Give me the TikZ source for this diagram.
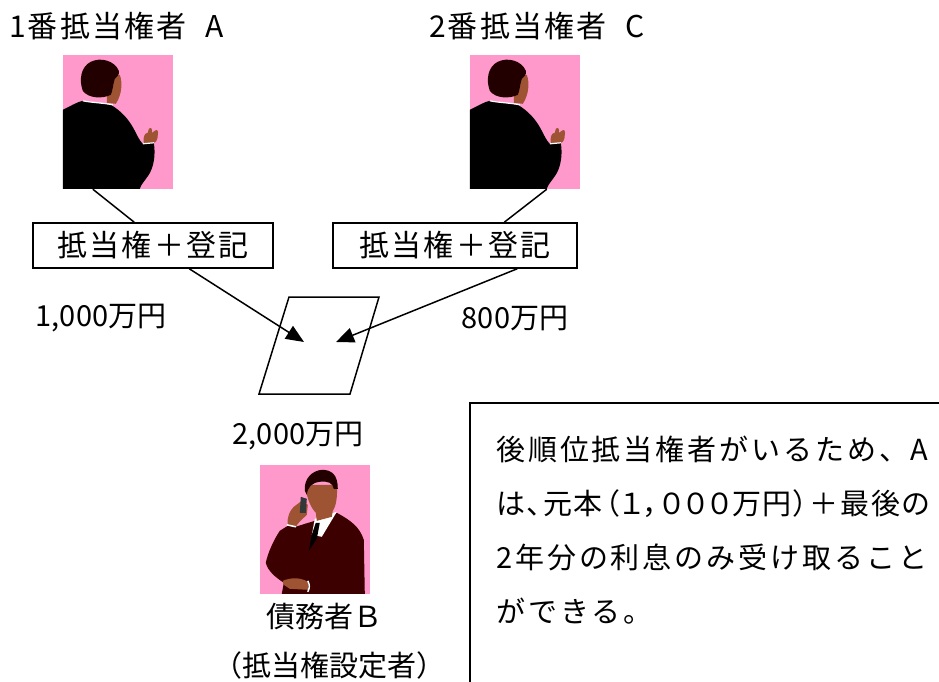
\documentclass[tikz,border=0pt]{standalone}
\usepackage{fontspec}
\setmainfont{Noto Sans CJK JP}
\newfontfamily\notefont[LetterSpace=10]{Noto Sans CJK JP}
\newfontfamily\labelfont[LetterSpace=7]{Noto Sans CJK JP}
\usetikzlibrary{arrows.meta,positioning}
\definecolor{photopink}{RGB}{255,153,204}
\definecolor{skin}{RGB}{158,84,50}
\definecolor{hair}{RGB}{34,0,0}
\definecolor{suitred}{RGB}{60,0,0}
\definecolor{phonegray}{RGB}{50,55,55}
\tikzset{
lbl/.style = {font=\fontsize{29}{34}\selectfont, inner sep=0pt},
title/.style = {font=\fontsize{30}{34}\selectfont\labelfont, inner sep=0pt},
block/.style = {draw, line width=1.5pt, minimum width=240pt, minimum height=45pt, font=\fontsize{30}{34}\selectfont\labelfont, inner sep=0pt},
photo/.style = {fill=photopink, minimum width=110pt, minimum height=134pt, inner sep=0pt},
link/.style = {line width=1.5pt},
% man seen from behind, raising his hand
backman/.pic = {
    \fill[skin] (44,22) -- (57,20) .. controls (60,28) and (59,40) .. (53,49) -- (44,48) -- cycle;
    \fill[hair] (20,36) .. controls (16,25) and (18,12) .. (28,7) .. controls (38,2) and (52,6) .. (56,16) .. controls (57,20) and (54,22) .. (52,24) .. controls (50,30) and (50,36) .. (48,40) .. controls (40,44) and (26,44) .. (20,36) -- cycle;
    \fill[black] (0,55) .. controls (10,50) and (15,47) .. (20,46) -- (48,50) .. controls (58,56) and (66,64) .. (72,76) .. controls (75,82) and (77,86) .. (80,89) -- (91,88) .. controls (93,100) and (91,112) .. (86,120) .. controls (82,126) and (78,130) .. (77,134) -- (0,134) -- cycle;
    \draw[white, line width=1.2pt] (20,46) .. controls (30,48) and (40,48) .. (50,50);
    \fill[skin] (81,88) .. controls (80,82) and (82,78) .. (85,78) -- (86,74) .. controls (88,72) and (90,74) .. (89,78) -- (92,76) .. controls (94,74) and (96,76) .. (95,80) .. controls (95,85) and (93,88) .. (91,88) -- cycle;
    \draw[white, line width=1.2pt] (80,89) -- (91,88);
},
% man on the phone
phoneman/.pic = {
    \fill[suitred] (52,57) -- (77,48) .. controls (90,55) and (100,62) .. (104,75) -- (105,129) -- (22,129) -- (24,118) .. controls (15,112) and (8,106) .. (6,98) .. controls (8,88) and (14,75) .. (20,66) -- (28,61) -- (36,62) .. controls (42,60) and (48,58) .. (52,57) -- cycle;
    \fill[white] (55,54) -- (77,47) -- (62,72) -- (52,70) -- cycle;
    \fill[black] (56,58) -- (60,58) -- (57,74) -- (49,86) -- (52,70) -- cycle;
    \fill[skin] (57,56) -- (56,48) .. controls (50,42) and (46,30) .. (46,20) -- (77,20) .. controls (78,32) and (76,42) .. (73,46) -- (72,52) -- cycle;
    \fill[hair] (45,26) .. controls (44,14) and (52,6) .. (62,5) .. controls (72,5) and (78,10) .. (78,24) -- (74,24) .. controls (73,18) and (68,16) .. (60,17) .. controls (52,18) and (48,22) .. (47,30) -- cycle;
    \fill[skin] (28,60) .. controls (27,52) and (30,46) .. (34,42) -- (42,36) -- (48,40) -- (47,50) .. controls (43,54) and (38,58) .. (36,62) -- cycle;
    \fill[phonegray] (41,32) -- (47,34) -- (46,48) -- (40,48) -- cycle;
    \draw[white, line width=1.5pt] (27,60) -- (36,62);
    \fill[skin] (23,116) .. controls (30,113) and (40,112) .. (48,117) -- (48,125) -- (30,124) -- (24,120) -- cycle;
    \draw[white, line width=1.5pt] (48,116) .. controls (50,120) and (50,123) .. (48,127);
}
}

\begin{document}
\begin{tikzpicture}[x=1pt, y=-1pt]
    \useasboundingbox (0,0) rectangle (939,682);

    % mortgagees
    \node [title, anchor=west] (titleA) at (9,26) {1番抵当権者\hspace{19pt}A};
    \node [title, anchor=west] (titleC) at (429,26) {2番抵当権者\hspace{19pt}C};
    \node [photo] (manA) at (118,122) {};
    \pic at (manA.north west) {backman};
    \node [photo] (manC) at (525,122) {};
    \pic at (manC.north west) {backman};

    \node [block] (boxA) at (153,245.5) {抵当権＋登記};
    \node [block, minimum width=244pt] (boxC) at (455,245.5) {抵当権＋登記};
    \draw [link] ([xshift=30pt]manA.south west) -- ([xshift=102pt]boxA.north west);
    \draw [link] ([xshift=77pt]manC.south west) -- ([xshift=172pt]boxC.north west);

    \node [lbl] (debtA) at (101,318) {1,000万円};
    \node [lbl] (debtC) at (515,318) {800万円};

    % the land
    \draw [link] (289,297) -- (379,297) -- (350,394) -- (259,394) -- cycle;
    \coordinate (tipA) at (304,342);
    \coordinate (tipC) at (336,342);
    \draw [link, -{Triangle[length=18pt,width=15pt]}] ([xshift=157pt]boxA.south west) -- (tipA);
    \draw [link, -{Triangle[length=18pt,width=15pt]}] ([xshift=185pt]boxC.south west) -- (tipC);
    \node [lbl] (value) at (298,436) {2,000万円};

    % debtor
    \node [photo, minimum height=129pt] (manB) at (315,529.5) {};
    \pic at (manB.north west) {phoneman};
    \node [lbl] (debtor) at (324,617) {債務者Ｂ};
    \node [lbl] (setter) at (329,665) {（抵当権設定者）};

    % note
    \draw [link] (470,682) -- (470,403) -- (939,403);
    \node [anchor=north west, align=left, inner sep=0pt, font=\fontsize{29}{54}\selectfont\notefont] (note) at (496,436)
        {後順位抵当権者がいるため、A\\{\addfontfeature{RawFeature=+palt,LetterSpace=6}は、元本（１，０００万円）＋最後の}\\2年分の利息のみ受け取ること\\ができる。};
\end{tikzpicture}
\end{document}
